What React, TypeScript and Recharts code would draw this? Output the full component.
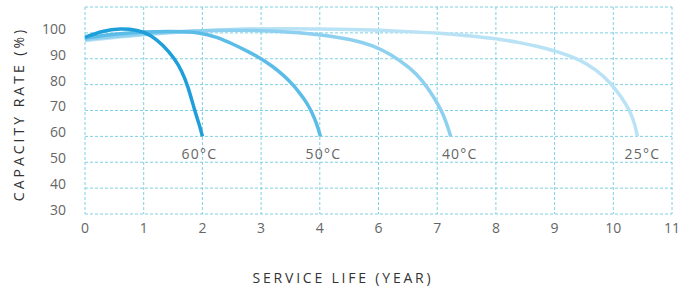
import { CartesianGrid, LabelList, Line, LineChart, XAxis, YAxis } from "recharts";

// x positions are grid-column indices (the axis is labelled unevenly: no "5")
const xTicks = [0, 1, 2, 3, 4, 5, 6, 7, 8, 9, 10];
const xTickLabels = ["0", "1", "2", "3", "4", "6", "7", "8", "9", "10", "11"];
const yTicks = [30, 40, 50, 60, 70, 80, 90, 100, 110];

const pos60 = [0, 0.3, 0.6, 0.9, 1.11, 1.33, 1.53, 1.65, 1.75, 1.87, 1.95, 2.0];
const cap60 = [98.3, 100.8, 101.7, 101.1, 99.4, 95.4, 90, 85.2, 79.8, 69.8, 64.4, 60];

const pos50 = [0, 0.5, 1, 1.5, 1.96, 2.24, 2.53, 2.78, 3.02, 3.2, 3.38, 3.53, 3.66, 3.77, 3.86, 3.95, 4.01];
const cap50 = [98, 99.6, 100.4, 100.6, 100.2, 98.5, 95.6, 92.8, 89.8, 87, 83.7, 80.3, 76.7, 73.3, 69.6, 64.8, 60];

const pos40 = [0, 0.5, 1, 1.5, 2, 2.5, 3, 3.5, 4, 4.57, 4.9, 5.2, 5.54, 5.76, 5.93, 6.08, 6.17, 6.23];
const cap40 = [97.4, 98.6, 99.6, 100.4, 100.9, 101.1, 100.9, 100.3, 99.4, 97.4, 95.1, 91.9, 86.5, 81.4, 75.6, 69.8, 64.4, 60];

const pos25 = [0, 0.5, 1, 1.5, 2, 2.5, 3, 3.5, 4, 4.5, 5.04, 5.5, 6.05, 6.5, 7.06, 7.4, 7.75, 8.09, 8.43, 8.72, 8.94, 9.14, 9.28, 9.37, 9.41];
const cap25 = [97, 98.3, 99.3, 100.2, 100.9, 101.4, 101.6, 101.6, 101.5, 101.3, 101.0, 100.5, 99.9, 99.0, 97.6, 96.3, 94.6, 92.5, 89.7, 85.6, 81.0, 75.2, 70.0, 64.6, 60];

const series = [
  { name: "25°C", pos: pos25, cap: cap25, color: "#b9e2f5", labelDx: 5 },
  { name: "40°C", pos: pos40, cap: cap40, color: "#8dd0ef", labelDx: 9 },
  { name: "50°C", pos: pos50, cap: cap50, color: "#5cbce8", labelDx: 3 },
  { name: "60°C", pos: pos60, cap: cap60, color: "#1f9fda", labelDx: -3 },
];

const FONT = "'Open Sans', sans-serif";
const GREY = "#666";

const App = () => {
  return (
    <div style={{ position: "absolute", left: 0, top: 0 }}>
      <LineChart
        width={681}
        height={287}
        margin={{ top: 7, right: 9, left: 0, bottom: 0 }}
        style={{ fontFamily: FONT }}
      >
        <CartesianGrid stroke="#80d0e3" strokeDasharray="3 2" />
        <XAxis
          type="number"
          dataKey="x"
          domain={[0, 10]}
          ticks={xTicks}
          tickFormatter={(i: number) => xTickLabels[i]}
          axisLine={false}
          tickLine={false}
          tickMargin={3}
          height={73}
          tick={{ fill: GREY, fontSize: 14 }}
          label={{
            content: () => (
              <text
                x={343}
                y={283}
                textAnchor="middle"
                fill="#333"
                fontSize={14}
                letterSpacing={2.8}
              >
                SERVICE LIFE (YEAR)
              </text>
            ),
          }}
        />
        <YAxis
          type="number"
          domain={[30, 110]}
          ticks={yTicks}
          tickFormatter={(v: number) => (v === 110 ? "" : String(v))}
          axisLine={false}
          tickLine={false}
          tickMargin={13}
          width={85}
          tick={{ fill: GREY, fontSize: 14, dy: -4 }}
          label={{
            content: () => (
              <text
                x={24}
                y={114}
                textAnchor="middle"
                transform="rotate(-90, 24, 114)"
                fill="#333"
                fontSize={14}
                letterSpacing={3}
              >
                CAPACITY RATE (%)
              </text>
            ),
          }}
        />
        {series.map((s) => (
          <Line
            key={s.name}
            data={s.pos.map((x, i) => ({ x, y: s.cap[i] }))}
            dataKey="y"
            type="basis"
            stroke={s.color}
            strokeWidth={3.5}
            dot={false}
            isAnimationActive={false}
          >
            <LabelList
              dataKey="y"
              content={(p: any) =>
                p.index === s.pos.length - 1 ? (
                  <text
                    x={p.x + s.labelDx}
                    y={p.y + 23}
                    textAnchor="middle"
                    fill={GREY}
                    fontSize={14}
                    letterSpacing={1.2}
                  >
                    {s.name}
                  </text>
                ) : null
              }
            />
          </Line>
        ))}
      </LineChart>
    </div>
  );
};

export default App;
